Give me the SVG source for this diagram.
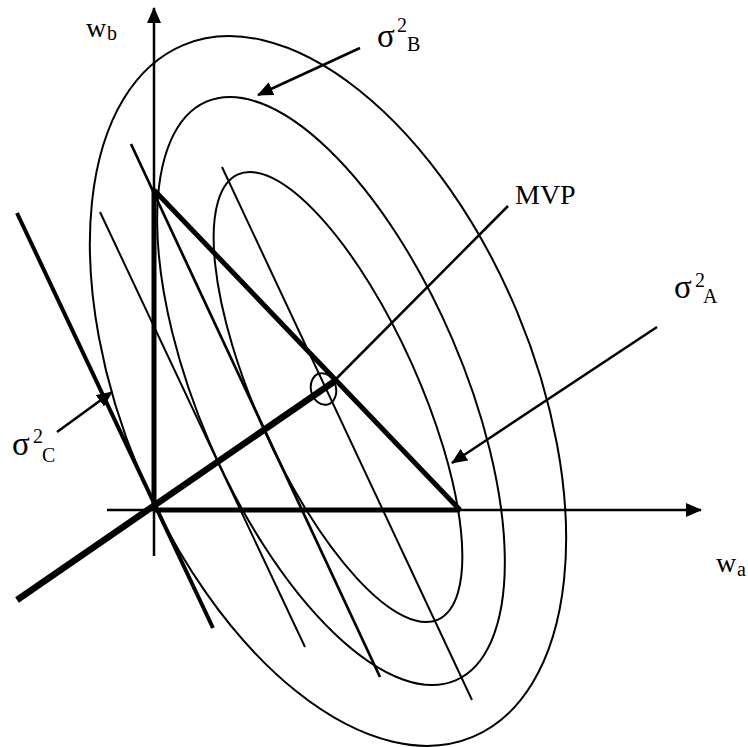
<svg xmlns="http://www.w3.org/2000/svg" width="748" height="747" viewBox="0 0 748 747">
<style>
.e{fill:none;stroke:#000;stroke-width:2}
.t{stroke:#000;stroke-width:2;fill:none}
.k{stroke:#000;stroke-width:5;fill:none;stroke-linecap:butt}
.a{stroke:#000;stroke-width:2.5;fill:none}
text{font-family:"Liberation Serif","Times New Roman",serif;fill:#000}
.big{font-size:28px}
.sig{font-size:33px}
.sm{font-size:20px}
</style>
<defs>
<marker id="ah" viewBox="0 0 16 14" refX="15" refY="7" markerWidth="16" markerHeight="14" markerUnits="userSpaceOnUse" orient="auto">
<path d="M0,0 L16,7 L0,14 z" fill="#000"/>
</marker>
</defs>
<rect width="748" height="747" fill="#fff"/>
<g id="ellipses">
<ellipse id="outer" class="e" cx="328" cy="391" rx="205" ry="375" transform="rotate(-22.7 328 391)"/>
<ellipse id="middle" class="e" cx="331" cy="391" rx="132" ry="315" transform="rotate(-23.3 331 391)"/>
<ellipse id="inner" class="e" cx="338" cy="397" rx="81" ry="244" transform="rotate(-24.2 338 397)"/>
</g>
<g id="connectors">
<line class="t" x1="100" y1="212" x2="305" y2="647"/>
<line class="t" x1="131" y1="144" x2="380" y2="677" style="stroke-width:2.7"/>
<line class="t" x1="222" y1="167" x2="472" y2="700"/>
<line class="t" x1="17" y1="213" x2="213" y2="628" style="stroke-width:4"/>
<line class="a" x1="154" y1="556" x2="154" y2="8" marker-end="url(#ah)"/>
<line class="a" x1="107" y1="510" x2="701" y2="510" marker-end="url(#ah)"/>
<line class="k" x1="154" y1="190" x2="154" y2="510"/>
<line class="k" x1="154" y1="510" x2="460" y2="510"/>
<line class="k" x1="154" y1="190" x2="460" y2="510"/>
<line class="k" x1="17" y1="600" x2="335" y2="381" style="stroke-width:6.5"/>
<line class="a" x1="508" y1="206" x2="336" y2="379"/>
<line class="a" x1="360" y1="48" x2="258" y2="95" marker-end="url(#ah)"/>
<line class="a" x1="657" y1="327" x2="452" y2="463" marker-end="url(#ah)"/>
<line class="a" x1="57" y1="432" x2="112" y2="392" marker-end="url(#ah)"/>
</g>
<g id="mvp">
<ellipse class="e" cx="323.5" cy="389" rx="12.5" ry="16" transform="rotate(-15 323.5 389)"/>
<text class="big" x="515" y="204">MVP</text>
</g>
<g id="wb"><text class="big" x="86" y="37">w</text><text class="sm" x="107" y="40">b</text></g>
<g id="wa"><text class="big" x="716" y="572">w</text><text class="sm" x="737" y="576">a</text></g>
<g id="sB"><text class="sig" x="377" y="47">σ</text><text class="sm" x="397" y="32">2</text><text class="sm" x="407" y="51">B</text></g>
<g id="sA"><text class="sig" x="674" y="298">σ</text><text class="sm" x="695" y="287">2</text><text class="sm" x="703" y="303">A</text></g>
<g id="sC"><text class="sig" x="12" y="455">σ</text><text class="sm" x="33" y="443">2</text><text class="sm" x="42" y="462">C</text></g>
</svg>
